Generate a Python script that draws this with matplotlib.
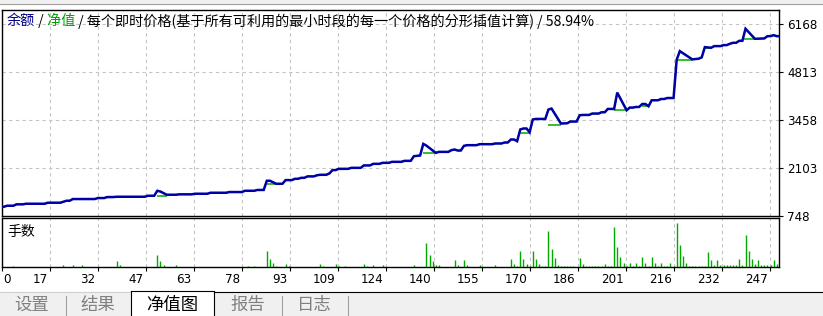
import matplotlib
matplotlib.use("Agg")
import matplotlib.pyplot as plt
import matplotlib.transforms as mtransforms
from matplotlib.patches import Rectangle
from matplotlib.lines import Line2D

W, H = 823, 316
CJK = ["Noto Sans CJK SC", "DejaVu Sans"]

# balance curve (trade number, balance) - vertices
bal_trade = [1, 2, 3, 5, 6, 8, 9, 15, 16, 20, 21, 22, 23, 24, 31, 32, 34, 35, 37, 38,
             47, 48, 50, 51, 52, 54, 57, 58, 62, 63, 67, 68, 73, 74, 78, 79, 82, 83, 85, 86,
             87, 89, 91, 92, 94, 95, 96, 97, 98, 99, 101, 102, 103, 105, 106, 107, 108, 109, 112, 113,
             116, 117, 119, 120, 122, 123, 125, 126, 129, 130, 132, 133, 135, 136, 137, 140, 141, 144, 145, 146,
             147, 148, 149, 150, 153, 154, 158, 159, 161, 162, 163, 164, 165, 166, 167, 168, 169, 170, 171, 172,
             175, 176, 177, 180, 182, 183, 185, 186, 187, 189, 190, 192, 193, 194, 195, 197, 198, 201, 202, 203,
             204, 205, 206, 207, 208, 209, 211, 212, 213, 214, 216, 217, 218, 222, 224, 225, 226, 228, 229, 231,
             232, 233, 234, 235, 236, 237, 238, 239, 242, 245, 246, 247, 248, 249, 250]
bal_value = [1010, 1010, 1039, 1039, 1078, 1078, 1095, 1095, 1124, 1124, 1152, 1180, 1180, 1228, 1228, 1256, 1256, 1284, 1284, 1293,
             1293, 1321, 1321, 1462, 1440, 1350, 1350, 1361, 1361, 1378, 1378, 1406, 1406, 1426, 1426, 1462, 1462, 1485, 1485, 1745,
             1745, 1660, 1660, 1764, 1764, 1801, 1801, 1829, 1829, 1869, 1869, 1900, 1914, 1914, 1953, 2047, 2047, 2083, 2083, 2111,
             2111, 2179, 2179, 2224, 2224, 2253, 2253, 2281, 2281, 2309, 2309, 2440, 2461, 2789, 2740, 2535, 2563, 2563, 2611, 2630,
             2601, 2601, 2733, 2752, 2752, 2780, 2780, 2800, 2800, 2828, 2828, 2913, 2913, 2865, 3196, 3224, 3224, 3119, 3478, 3495,
             3495, 3760, 3788, 3365, 3373, 3421, 3421, 3599, 3608, 3608, 3647, 3647, 3684, 3684, 3778, 3778, 4240, 3740, 3816, 3816,
             3834, 3834, 3918, 3918, 3853, 4023, 4023, 4059, 4059, 4087, 4087, 5172, 5414, 5180, 5199, 5237, 5527, 5509, 5556, 5556,
             5584, 5584, 5622, 5650, 5650, 5706, 5706, 6047, 5763, 5773, 5837, 5837, 5866, 5837, 5837]

# equity stays flat where the balance line bumps
eq_start = [51, 86, 136, 167, 176, 197, 206, 217, 226, 238, 248]
eq_end = [54, 89, 140, 170, 180, 201, 208, 222, 228, 242, 250]
eq_level = [1313, 1643, 2518, 3111, 3337, 3740, 3853, 5172, 5509, 5745, 5837]

# lots per trade
lot_trade = [5, 21, 24, 27, 38, 39, 51, 52, 53, 57, 80, 82, 86, 87, 88, 89, 92, 93, 103, 104,
             108, 109, 111, 117, 118, 120, 123, 133, 137, 138, 139, 140, 141, 146, 147, 149, 150, 154, 159, 164,
             165, 166, 167, 168, 169, 170, 171, 172, 173, 174, 175, 176, 177, 178, 179, 180, 181, 182, 183, 184,
             186, 187, 188, 189, 190, 191, 192, 193, 194, 195, 196, 197, 198, 199, 200, 201, 202, 203, 204, 205,
             206, 207, 208, 209, 210, 211, 212, 213, 214, 215, 216, 217, 218, 219, 220, 221, 222, 223, 224, 225,
             226, 227, 228, 229, 230, 231, 232, 233, 234, 235, 236, 237, 238, 239, 240, 241, 242, 243, 244, 245,
             246, 247, 248, 249]
lot_size = [0.01, 0.02, 0.02, 0.02, 0.06, 0.02, 0.12, 0.06, 0.02, 0.02, 0.01, 0.01, 0.16, 0.08, 0.04, 0.01, 0.03, 0.01, 0.03, 0.01,
            0.03, 0.01, 0.01, 0.03, 0.01, 0.02, 0.02, 0.02, 0.24, 0.12, 0.06, 0.02, 0.02, 0.07, 0.02, 0.07, 0.02, 0.02, 0.02, 0.08,
            0.03, 0.01, 0.16, 0.08, 0.03, 0.01, 0.16, 0.08, 0.03, 0.01, 0.01, 0.36, 0.18, 0.09, 0.02, 0.01, 0.01, 0.01, 0.01, 0.01,
            0.09, 0.03, 0.01, 0.01, 0.01, 0.01, 0.01, 0.01, 0.03, 0.01, 0.01, 0.40, 0.20, 0.10, 0.04, 0.01, 0.04, 0.01, 0.04, 0.01,
            0.10, 0.04, 0.01, 0.10, 0.04, 0.01, 0.04, 0.01, 0.01, 0.04, 0.01, 0.44, 0.22, 0.11, 0.04, 0.01, 0.01, 0.01, 0.01, 0.01,
            0.01, 0.15, 0.07, 0.02, 0.07, 0.02, 0.02, 0.02, 0.02, 0.02, 0.02, 0.08, 0.02, 0.32, 0.16, 0.08, 0.03, 0.07, 0.02, 0.02,
            0.02, 0.02, 0.07, 0.03]

y_ticks = [748, 2103, 3458, 4813, 6168]
x_labels = ["0", "17", "32", "47", "63", "78", "93", "109", "124", "140", "155", "170",
            "186", "201", "216", "232", "247"]
tabs = ["设置", "结果", "净值图", "报告", "日志"]

BLUE = "#0000a8"
GREEN = "#00aa00"
GRID = "#c4c4c4"


def rect(l, t, r, b):
    return [l / W, 1 - b / H, (r - l) / W, (b - t) / H]


fig = plt.figure(figsize=(W / 100, H / 100), dpi=100)
fig.patch.set_facecolor("white")

ax = fig.add_axes(rect(1.5, 9.5, 779, 216))
ax2 = fig.add_axes(rect(1.5, 218, 779, 267))

grid_pos = [1.26 + 15.34 * k for k in range(len(x_labels))]
xlim = (1.2, 249.7)

# main panel
ax.plot(bal_trade, bal_value, color=GREEN, lw=1.0, zorder=2)
ax.hlines(eq_level, eq_start, eq_end, color=GREEN, lw=1.1, zorder=2)
ax.plot(bal_trade, bal_value, color=BLUE, lw=1.8, zorder=3, solid_joinstyle="miter")
ax.set_xlim(*xlim)
ax.set_ylim(748, 6592)
ax.set_xticks(grid_pos)
ax.set_yticks(y_ticks)
ax.tick_params(axis="x", length=0, labelbottom=False)
ax.yaxis.tick_right()
ax.tick_params(axis="y", length=3, width=0.8, pad=3, labelsize=8.6, direction="out")
ax.grid(True, color=GRID, ls=(0, (3, 3)), lw=0.8)

# lots panel
ax2.vlines(lot_trade, 0, lot_size, color=GREEN, lw=1.0)
ax2.set_xlim(*xlim)
ax2.set_ylim(0, 0.49)
ax2.set_yticks([])
ax2.set_xticks(grid_pos, x_labels)
ax2.tick_params(axis="x", length=3, width=0.8, pad=1.5, labelsize=8.6)
ax2.grid(True, axis="x", color=GRID, ls=(0, (3, 3)), lw=0.8)
for i, lab in enumerate(ax2.get_xticklabels()):
    if i == 0:
        lab.set_horizontalalignment("left")
        lab.set_transform(lab.get_transform() + mtransforms.ScaledTranslation(2 / 100, 0, fig.dpi_scale_trans))
    else:
        lab.set_horizontalalignment("right")
        lab.set_transform(lab.get_transform() + mtransforms.ScaledTranslation(-2 / 100, 0, fig.dpi_scale_trans))

for a in (ax, ax2):
    for s in a.spines.values():
        s.set_linewidth(1.0)
        s.set_color("black")

fig.text(7 / W, 1 - 232 / H, "手数", fontsize=10, family=CJK, va="center")

# title pieces
pieces = [("余额", "#00008b"), (" /", "black"), (" 净值", "#00a000"),
          (" / 每个即时价格(基于所有可利用的最小时段的每一个价格的分形插值计算) / 58.94%", "black")]
renderer = fig.canvas.get_renderer()
x = 7
for s, c in pieces:
    t = fig.text(x / W, 1 - 21 / H, s, color=c, fontsize=10.2, family=CJK, va="center", ha="left")
    x += t.get_window_extent(renderer).width

# top band
fig.patches.append(Rectangle((0, 1 - 3 / H), 1, 3 / H, transform=fig.transFigure, color="#f0f0f0", zorder=0))
fig.lines.append(Line2D([0, 1], [1 - 3.5 / H] * 2, transform=fig.transFigure, color="#a0a0a0", lw=0.8))

# tab strip
fig.patches.append(Rectangle((0, 0), 1, 1 - 292 / H, transform=fig.transFigure, color="#f0f0f0", zorder=0))
fig.patches.append(Rectangle((131 / W, 0), (214 - 131) / W, 1 - 290 / H, transform=fig.transFigure,
                             facecolor="white", edgecolor="none", zorder=1))
fig.lines.append(Line2D([214 / W, 1], [1 - 291.5 / H] * 2, transform=fig.transFigure, color="black", lw=0.8))
fig.lines.append(Line2D([0, 131 / W], [1 - 291.5 / H] * 2, transform=fig.transFigure, color="#d0d0d0", lw=0.8))
fig.lines.append(Line2D([131 / W] * 2, [0, 1 - 290.5 / H], transform=fig.transFigure, color="black", lw=0.8))
fig.lines.append(Line2D([214 / W] * 2, [0, 1 - 290.5 / H], transform=fig.transFigure, color="black", lw=0.8))
fig.lines.append(Line2D([131 / W, 214 / W], [1 - 290.5 / H] * 2, transform=fig.transFigure, color="black", lw=0.8))
for sx in (66, 282, 348):
    fig.lines.append(Line2D([sx / W] * 2, [0, 1 - 296 / H], transform=fig.transFigure, color="#a0a0a0", lw=0.8))
tab_x = [32, 98, 172, 248, 314]
for name, tx in zip(tabs, tab_x):
    fig.text(tx / W, 1 - 305 / H, name, fontsize=12.5, family=CJK, ha="center", va="center",
             color="black" if name == "净值图" else "#808080")

fig.savefig("out.png", dpi=100)
